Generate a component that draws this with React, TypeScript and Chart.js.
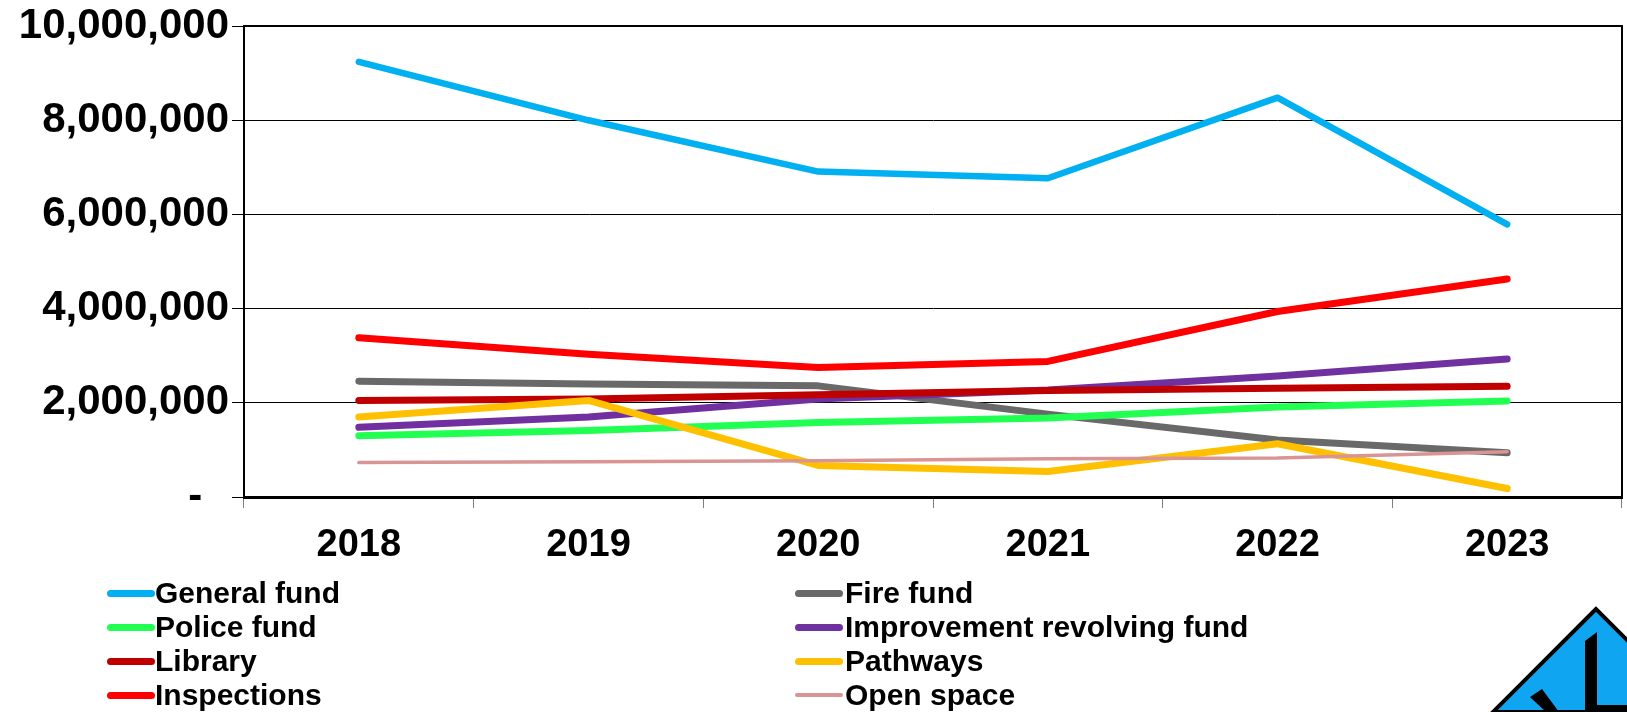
import React, { useEffect, useRef } from 'react';
import { Chart, registerables } from 'chart.js';

Chart.register(...registerables);

const years = ['2018', '2019', '2020', '2021', '2022', '2023'];

const generalFund = [9240000, 8000000, 6910000, 6770000, 8480000, 5790000];
const fireFund = [2460000, 2400000, 2360000, 1760000, 1210000, 940000];
const policeFund = [1300000, 1410000, 1580000, 1680000, 1910000, 2040000];
const improvementFund = [1480000, 1700000, 2080000, 2270000, 2570000, 2930000];
const library = [2050000, 2080000, 2170000, 2260000, 2310000, 2350000];
const pathways = [1700000, 2050000, 670000, 540000, 1130000, 180000];
const inspections = [3380000, 3030000, 2750000, 2880000, 3940000, 4630000];
const openSpace = [730000, 750000, 770000, 810000, 830000, 960000];

const seriesNames = [
  'General fund',
  'Fire fund',
  'Police fund',
  'Improvement revolving fund',
  'Library',
  'Pathways',
  'Inspections',
  'Open space',
];
const seriesValues = [generalFund, fireFund, policeFund, improvementFund, library, pathways, inspections, openSpace];
const seriesColors = ['#00B0F0', '#696969', '#21FF52', '#7030A0', '#C00000', '#FFC000', '#FF0000', '#D99594'];
const seriesWidths = [6.5, 7, 7, 7, 7, 7, 7, 3.5];

const yMax = 10000000;
const yStep = 2000000;

const FONT = "'Liberation Sans', Arial, Helvetica, sans-serif";

const frame = {
  id: 'frame',
  beforeDatasetsDraw(chart: any) {
    const { ctx, chartArea } = chart;
    ctx.save();
    ctx.strokeStyle = '#000';
    ctx.lineWidth = 2;
    ctx.beginPath();
    ctx.moveTo(chartArea.left, chartArea.top);
    ctx.lineTo(chartArea.right, chartArea.top);
    ctx.lineTo(chartArea.right, chartArea.bottom);
    ctx.stroke();
    ctx.restore();
  },
};

export default function App() {
  const ref = useRef<HTMLCanvasElement>(null);

  useEffect(() => {
    if (!ref.current) return;
    const chart = new Chart(ref.current, {
      type: 'line',
      data: {
        labels: years,
        datasets: seriesNames.map((name, i) => ({
          label: name,
          data: seriesValues[i],
          borderColor: seriesColors[i],
          backgroundColor: seriesColors[i],
          borderWidth: seriesWidths[i],
          borderCapStyle: 'round',
          borderJoinStyle: 'round',
          pointRadius: 0,
          tension: 0,
          fill: false,
          order: seriesNames.length - i,
        })),
      },
      options: {
        responsive: false,
        animation: false,
        layout: { padding: { top: 0, right: 5, bottom: 0, left: 0 } },
        plugins: {
          legend: { display: false },
          tooltip: { enabled: false },
        },
        scales: {
          x: {
            type: 'category',
            offset: true,
            afterFit: (scale: any) => {
              scale.height = 215;
            },
            grid: {
              display: true,
              offset: true,
              drawOnChartArea: false,
              drawTicks: true,
              tickLength: 11,
              color: '#7f7f7f',
              lineWidth: 1,
            },
            border: { display: true, color: '#000', width: 3 },
            ticks: {
              padding: 15,
              color: '#000',
              maxRotation: 0,
              font: { family: FONT, size: 38, weight: 'bold' },
            },
          },
          y: {
            min: 0,
            max: yMax,
            afterFit: (scale: any) => {
              scale.width = 244;
            },
            grid: {
              display: true,
              drawOnChartArea: true,
              drawTicks: true,
              tickLength: 12,
              color: '#000',
              lineWidth: 1,
            },
            border: { display: true, color: '#000', width: 2 },
            ticks: {
              stepSize: yStep,
              padding: 3,
              color: '#000',
              font: { family: FONT, size: 42, weight: 'bold', lineHeight: 1.1 },
              callback: (v: any) => (Number(v) === 0 ? '-\u00A0\u00A0\u200A' : Number(v).toLocaleString('en-US')),
            },
          },
        },
      },
      plugins: [frame],
    });
    return () => chart.destroy();
  }, []);

  const legendRows = [593, 627, 661, 695];
  const colX = [{ line: 107, text: 155 }, { line: 795, text: 845 }];

  return (
    <div style={{ position: 'absolute', left: 0, top: 0, width: 1627, height: 712, background: '#fff', overflow: 'hidden' }}>
      <canvas ref={ref} width={1627} height={712} style={{ position: 'absolute', left: 0, top: 0, width: 1627, height: 712 }} />
      {seriesNames.map((name, i) => {
        const col = i % 2;
        const row = Math.floor(i / 2);
        const cy = legendRows[row];
        const w = i === 7 ? 4 : 7;
        return (
          <React.Fragment key={name}>
            <div
              style={{
                position: 'absolute',
                left: colX[col].line,
                top: cy - w / 2,
                width: 48,
                height: w,
                borderRadius: w / 2,
                background: seriesColors[i],
              }}
            />
            <div
              style={{
                position: 'absolute',
                left: colX[col].text,
                top: cy - 17,
                height: 34,
                lineHeight: '34px',
                fontFamily: FONT,
                fontWeight: 'bold',
                fontSize: 30,
                color: '#000',
                whiteSpace: 'nowrap',
              }}
            >
              {name}
            </div>
          </React.Fragment>
        );
      })}
      <svg width={1627} height={712} style={{ position: 'absolute', left: 0, top: 0, pointerEvents: 'none' }}>
        <polygon points="1596,609 1493,712 1699,712" fill="#0FA5F0" stroke="#000" strokeWidth={4} strokeLinejoin="miter" />
        <polygon points="1585,641 1597,632 1597,712 1585,712" fill="#000" />
        <rect x={1597} y={705} width={40} height={8} fill="#000" />
        <polygon points="1530,697 1542,689 1559,712 1546,712" fill="#000" />
      </svg>
    </div>
  );
}
